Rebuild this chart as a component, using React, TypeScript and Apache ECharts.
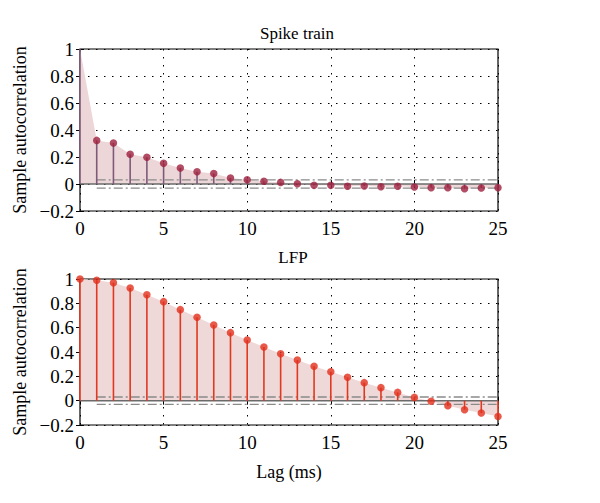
import React, { useEffect, useRef } from "react";
import * as echarts from "echarts";

const lags = [0, 1, 2, 3, 4, 5, 6, 7, 8, 9, 10, 11, 12, 13, 14, 15, 16, 17, 18, 19, 20, 21, 22, 23, 24, 25];
const spikeAcf = [1.0, 0.323, 0.304, 0.22, 0.198, 0.153, 0.119, 0.091, 0.077, 0.044, 0.032, 0.02, 0.012, 0.002, -0.01, -0.01, -0.017, -0.015, -0.02, -0.017, -0.022, -0.027, -0.027, -0.035, -0.03, -0.027];
const lfpAcf = [1.0, 0.99, 0.97, 0.926, 0.871, 0.814, 0.748, 0.685, 0.622, 0.559, 0.499, 0.441, 0.386, 0.334, 0.282, 0.238, 0.192, 0.148, 0.107, 0.068, 0.027, -0.005, -0.041, -0.074, -0.101, -0.131];
const confBound = 0.03;
const titles = ["Spike train", "LFP"];
const yName = "Sample autocorrelation";
const xName = "Lag (ms)";

const FONT = "Liberation Serif";

export default function App() {
  const ref = useRef<HTMLDivElement>(null);
  useEffect(() => {
    if (!ref.current) return;
    const chart = echarts.init(ref.current, null, { renderer: "svg" });
    const grids = [
      { left: 80, top: 49, width: 418, height: 162 },
      { left: 80, top: 279, width: 418, height: 146 },
    ];
    const dotted = { type: [1.5, 6.5] as any, color: "#000", width: 1 };
    const xAxes: any[] = [];
    const yAxes: any[] = [];
    [0, 1].forEach((g) => {
      xAxes.push({
        type: "value", gridIndex: g, min: 0, max: 25, interval: 5,
        axisLine: { show: false }, axisTick: { inside: true, length: 4, lineStyle: { color: "#000" } },
        axisLabel: { fontFamily: FONT, fontSize: 19, color: "#000", margin: 8 },
        splitLine: { show: true, lineStyle: dotted },
        name: g === 1 ? xName : "", nameLocation: "middle", nameGap: 38,
        nameTextStyle: { fontFamily: FONT, fontSize: 18, color: "#000" },
      });
      xAxes.push({
        type: "value", gridIndex: g, min: 0, max: 25, interval: 5, position: "top",
        axisLine: { show: false }, axisTick: { inside: true, length: 4, lineStyle: { color: "#000" } },
        axisLabel: { show: false }, splitLine: { show: false },
      });
      yAxes.push({
        type: "value", gridIndex: g, min: -0.2, max: 1, interval: 0.2,
        axisLine: { show: false }, axisTick: { show: true, inside: true, length: 4, lineStyle: { color: "#000" } },
        axisLabel: {
          fontFamily: FONT, fontSize: 19, color: "#000", margin: 6,
          formatter: (v: number) => {
            const r = Math.round(v * 10) / 10;
            return r < 0 ? "\u2212" + String(-r) : String(r);
          },
        },
        splitLine: { show: true, lineStyle: dotted },
        name: yName, nameLocation: "middle", nameGap: 50, nameRotate: 90,
        nameTextStyle: { fontFamily: FONT, fontSize: 18, color: "#000" },
      });
      yAxes.push({
        type: "value", gridIndex: g, min: -0.2, max: 1, interval: 0.2, position: "right",
        axisLine: { show: false }, axisTick: { show: true, inside: true, length: 4, lineStyle: { color: "#000" } },
        axisLabel: { show: false }, splitLine: { show: false },
      });
    });

    const makeSeries = (g: number, vals: number[], fill: string, stem: string, mark: string, skipFirstMarker: boolean) => {
      const xi = g * 2;
      const yi = g * 2;
      const pts = lags.map((l, i) => [l, vals[i]]);
      return [
        {
          type: "line", xAxisIndex: xi, yAxisIndex: yi, data: pts, symbol: "none",
          lineStyle: { width: 0, opacity: 0 }, areaStyle: { color: fill, opacity: 1 }, z: 1, silent: true,
        },
        {
          type: "line", xAxisIndex: xi, yAxisIndex: yi, data: [[0, 0], [25, 0]], symbol: "none",
          lineStyle: { color: "#6b6b6b", width: 1.5 }, z: 2, silent: true,
        },
        {
          type: "line", xAxisIndex: xi, yAxisIndex: yi, data: [[1, confBound], [25, confBound]], symbol: "none",
          lineStyle: { color: "#8a8a8a", width: 1.3, type: [9, 3, 2, 3] }, z: 2, silent: true,
        },
        {
          type: "line", xAxisIndex: xi, yAxisIndex: yi, data: [[1, -confBound], [25, -confBound]], symbol: "none",
          lineStyle: { color: "#8a8a8a", width: 1.3, type: [9, 3, 2, 3] }, z: 2, silent: true,
        },
        {
          type: "bar", xAxisIndex: xi, yAxisIndex: yi, data: pts, barWidth: 1.6,
          itemStyle: { color: stem }, z: 3, silent: true,
        },
        {
          type: "scatter", xAxisIndex: xi, yAxisIndex: yi,
          data: skipFirstMarker ? pts.slice(1) : pts, symbol: "circle", symbolSize: 7.5,
          itemStyle: { color: mark }, z: 4, silent: true,
        },
      ];
    };

    chart.setOption({
      animation: false,
      backgroundColor: "#fff",
      title: [
        { text: titles[0], left: 292, top: 20, textAlign: "center", textStyle: { fontFamily: FONT, fontSize: 17, fontWeight: "normal", color: "#000" } },
        { text: titles[1], left: 288, top: 244, textAlign: "center", textStyle: { fontFamily: FONT, fontSize: 17, fontWeight: "normal", color: "#000" } },
      ],
      grid: grids.map((gr) => ({ ...gr, show: true, borderColor: "#000", borderWidth: 1.2, backgroundColor: "transparent" })),
      xAxis: xAxes,
      yAxis: yAxes,
      series: [
        ...makeSeries(0, spikeAcf, "#ecd6d8", "#7e5a78", "#9e1f3d", true),
        ...makeSeries(1, lfpAcf, "#efd8d8", "#e0391f", "#e2301c", false),
      ],
    });
    return () => chart.dispose();
  }, []);
  return <div ref={ref} style={{ position: "fixed", left: 0, top: 0, width: 600, height: 503 }} />;
}
